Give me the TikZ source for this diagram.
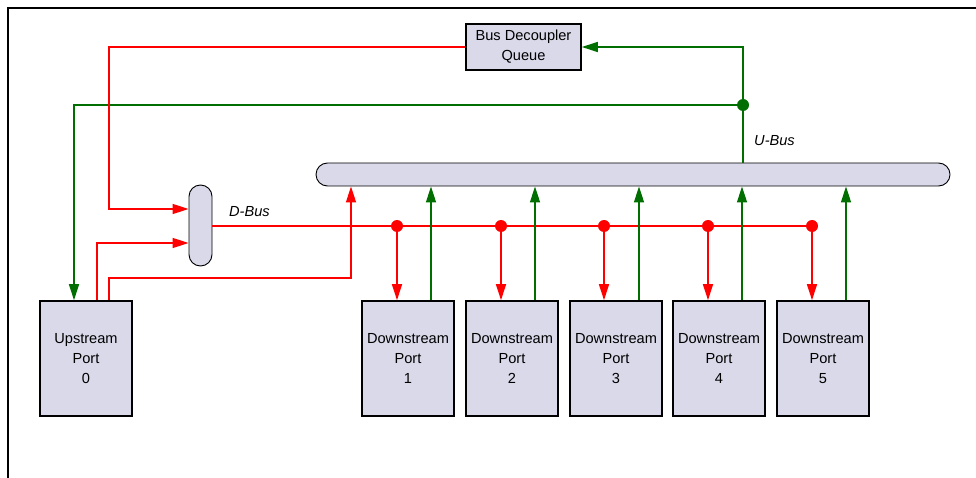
\documentclass[tikz,border=0pt]{standalone}
\usepackage{fontspec}
\setmainfont{Liberation Sans}
\usetikzlibrary{arrows.meta}
\definecolor{lav}{RGB}{217,217,234}
\definecolor{gr}{RGB}{0,110,0}
\definecolor{rd}{RGB}{255,0,0}
\tikzset{
  portbox/.style={draw, line width=1.6pt, fill=lav, minimum width=92pt, minimum height=115pt, inner sep=0pt, align=center, font=\fontsize{14.6}{20}\selectfont},
  qbox/.style={draw, line width=1.6pt, fill=lav, minimum width=115pt, minimum height=46pt, inner sep=0pt, align=center, font=\fontsize{14.6}{20}\selectfont},
  busbox/.style={draw, line width=0.9pt, fill=lav, rounded corners=11.5pt, inner sep=0pt},
  rline/.style={draw=rd, line width=1.4pt},
  gline/.style={draw=gr, line width=1.4pt},
  rarr/.style={rline, -{Triangle[length=16pt,width=10pt]}},
  garr/.style={gline, -{Triangle[length=16pt,width=10pt]}},
  lbl/.style={font=\fontsize{14.6}{20}\selectfont\itshape, anchor=west, inner sep=0pt},
}
\begin{document}
\begin{tikzpicture}[x=1pt,y=-1pt]
\useasboundingbox (0,0) rectangle (976,478);
\draw[line width=1.5pt] (8,478) -- (8,8) -- (976,8);
% nodes
\node[qbox] (bdq) at (523.5,47) {Bus Decoupler\\Queue};
\node[busbox, minimum width=634pt, minimum height=23pt] (ubus) at (633,174.5) {};
\node[busbox, minimum width=23pt, minimum height=81pt] (dbus) at (200.5,225.5) {};
\node[lbl] (ulbl) at (754,141) {U-Bus};
\node[lbl] (dlbl) at (229,212) {D-Bus};
\node[portbox] (up) at (86,358.5) {Upstream\\Port\\0};
\foreach \i/\cx in {1/408,2/512,3/616,4/719,5/823}{
  \node[portbox] (p\i) at (\cx,358.5) {Downstream\\Port\\\i};
}
% junctions
\coordinate (g0) at (743,105);
\coordinate (dout) at (212,226);
\foreach \i/\jx in {1/397,2/501,3/604,4/708,5/812}{
  \coordinate (j\i) at (\jx,226);
}
% D-Bus output line
\draw[draw=rd, line width=1.4pt] (dout) -- (j5);
\foreach \i in {1,...,5}{
  \draw[rarr] (j\i) -- (j\i |- p\i.north);
  \draw[garr] ([xshift=23pt]p\i.north) -- ([xshift=23pt]p\i.north |- ubus.south);
  \fill[rd] (j\i) circle (6pt);
}
% upstream connections
\draw[garr] (ubus.north -| g0) |- (bdq.east);
\draw[garr] (g0) -- (74,105) -- ([xshift=-12pt]up.north);
\fill[gr] (g0) circle (6pt);
\draw[rarr] ([xshift=11pt]up.north) |- (dbus.west |- 97,243);
\draw[rarr] ([xshift=23pt]up.north) |- (351,278) -- (351,278 |- ubus.south);
\draw[rarr] (bdq.west) -| (109,209) -- (dbus.west |- 109,209);
\end{tikzpicture}
\end{document}
